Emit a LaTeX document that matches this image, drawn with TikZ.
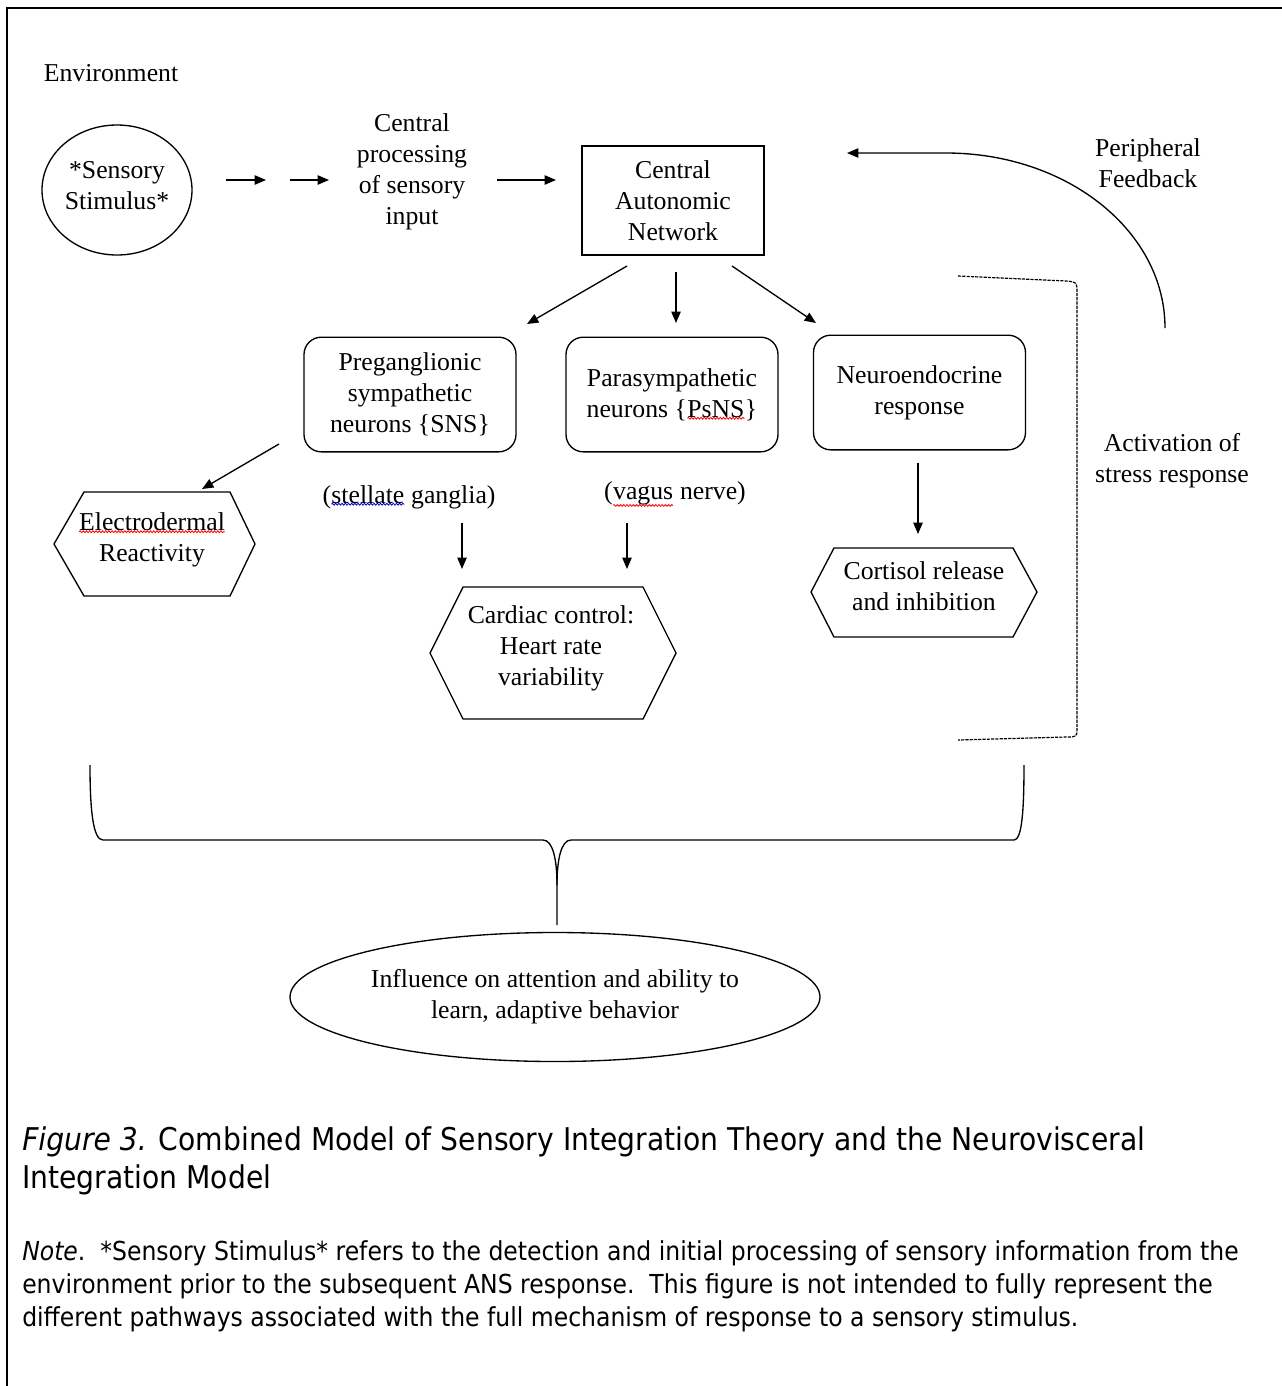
\documentclass[tikz,border=0pt]{standalone}
\usepackage{fontspec}
\setmainfont{Liberation Serif}
\newfontfamily\capfont[FakeStretch=0.9]{DejaVu Sans}
\usetikzlibrary{arrows.meta,shapes.geometric,decorations.pathmorphing}
\newcommand\wavy[2]{\tikz[baseline=(w.base)]{\node[shape=rectangle,draw=none,fill=none,minimum width=0pt,minimum height=0pt,inner sep=0pt,outer sep=0pt,sharp corners](w){#2};\draw[#1,sharp corners,line width=0.6pt,decorate,decoration={snake,amplitude=0.7pt,segment length=2.4pt}]([yshift=-0.6pt]w.south west)--([yshift=-0.6pt]w.south east);}}
\begin{document}
\begin{tikzpicture}[x=0.75pt,y=-0.75pt,
  txt/.style={font=\fontsize{19.3}{23.25}\selectfont,align=center,inner sep=0pt},
  arr/.style={line width=1pt,-{Triangle[length=8.5pt,width=7pt]}},
  rbox/.style={txt,draw,line width=1pt,rounded corners=13pt,minimum width=159pt,minimum height=86pt},
  hex/.style={line width=1pt},
  captxt/.style={font=\capfont\fontsize{23.5}{27}\selectfont,inner sep=0pt,anchor=base west},
  notetxt/.style={font=\capfont\fontsize{19.6}{24}\selectfont,inner sep=0pt,anchor=base west}]
\useasboundingbox (0,0) rectangle (1282,1386);
\fill[white] (0,0) rectangle (1282,1386);
% frame
\coordinate (fTL) at (7,8);
\coordinate (fTR) at (1282,8);
\coordinate (fBL) at (7,1386);
\draw[line width=1.5pt] (fBL) -- (fTL) -- (fTR);

% top row
\node[txt] (env) at (111,73) {Environment};
\node[txt,draw,ellipse,line width=1pt,minimum width=112.5pt,minimum height=97.5pt,inner sep=0pt] (stim) at (117,190) {};
\node[txt] (stimt) at (117,186) {*Sensory\\Stimulus*};
\node[txt] (cp) at (412,172) {Central\\processing\\of sensory\\input};
\node[txt,draw,line width=1pt,minimum width=136.5pt,minimum height=81.75pt] (can) at (673,200.5) {Central\\Autonomic\\Network};

\coordinate (a1s) at (226,180); \coordinate (a1e) at (266,180);
\coordinate (a2s) at (290,180); \coordinate (a2e) at (329,180);
\coordinate (a3s) at (497,180); \coordinate (a3e) at (556,180);
\draw[arr] (a1s) -- (a1e);
\draw[arr] (a2s) -- (a2e);
\draw[arr] (a3s) -- (a3e);

% feedback
\node[txt] (pf) at (1148,163) {Peripheral\\Feedback};
\coordinate (fb0) at (1165,328);
\coordinate (fb1) at (946,153);
\coordinate (fb2) at (847,153);
\draw[arr] (fb0) .. controls (1165,231) and (1067,153) .. (fb1) -- (fb2);

% arrows from CAN
\coordinate (c1s) at (627,266); \coordinate (c1e) at (527,324);
\coordinate (c2s) at (676,272); \coordinate (c2e) at (676,323);
\coordinate (c3s) at (732,266); \coordinate (c3e) at (816,323);
\draw[arr] (c1s) -- (c1e);
\draw[arr] (c2s) -- (c2e);
\draw[arr] (c3s) -- (c3e);

% rounded boxes
\node[rbox] (pre) at (410,394.5) {Preganglionic\\sympathetic\\neurons \{SNS\}};
\node[rbox] (para) at (672,394.5) {Parasympathetic\\neurons \{\wavy{red}{PsNS}\}};
\node[rbox] (neu) at (919.5,392.5) {Neuroendocrine\\response};

% electrodermal
\coordinate (e1s) at (279,444); \coordinate (e1e) at (202,489);
\draw[arr] (e1s) -- (e1e);
\draw[hex] (54,544) -- (84,492) -- (230,492) -- (255,544) -- (230,596) -- (84,596) -- cycle;
\node[txt] (elec) at (152,540) {\wavy{red}{Electrodermal}\\Reactivity};

% stellate / vagus
\node[txt] (stel) at (409,497) {(\wavy{blue!80!black}{stellate} ganglia)};
\node[txt] (vag) at (675,494) {(\wavy{red}{vagus} nerve)};
\coordinate (s1s) at (462,523); \coordinate (s1e) at (462,569);
\coordinate (v1s) at (627,523); \coordinate (v1e) at (627,569);
\draw[arr] (s1s) -- (s1e);
\draw[arr] (v1s) -- (v1e);

% cardiac
\draw[hex] (430,653) -- (463,587) -- (643,587) -- (676,653) -- (643,719) -- (463,719) -- cycle;
\node[txt] (card) at (551,648) {Cardiac control:\\Heart rate\\variability};

% cortisol
\coordinate (n1s) at (918,463); \coordinate (n1e) at (918,534);
\draw[arr] (n1s) -- (n1e);
\draw[hex] (811,592) -- (834,548) -- (1013,548) -- (1037,592) -- (1013,637) -- (834,637) -- cycle;
\node[txt] (cort) at (924,586) {Cortisol release\\and inhibition};

% activation bracket
\node[txt] (act) at (1172,461) {Activation of\\stress response};
\draw[line width=0.9pt,dash pattern=on 2.4pt off 0.8pt] (958,276) -- (1066,281) .. controls (1077,282) .. (1077,293) -- (1077,728) .. controls (1077,737) .. (1066,737) -- (958,740);

% brace
\draw[line width=1pt] (90,765) .. controls (90,810) and (93,840) .. (103,840) -- (543,840) .. controls (553,840) and (557,860) .. (557,885) -- (557,925);
\draw[line width=1pt] (557,885) .. controls (557,860) and (561,840) .. (571,840) -- (1014,840) .. controls (1022,840) and (1024,810) .. (1024,765);

% outcome
\node[txt,draw,ellipse,line width=1pt,minimum width=397.5pt,minimum height=96.75pt,inner sep=0pt] (inf) at (555,997) {};
\node[txt] (inft) at (555,997) {Influence on attention and ability to\\learn, adaptive behavior};

% caption
\node[captxt] (cap1) at (22,1150) {\textit{Figure 3.} Combined Model of Sensory Integration Theory and the Neurovisceral};
\node[captxt] (cap2) at (22,1188) {Integration Model};
\node[notetxt] (n1) at (22,1260) {\textit{Note}.\ \ *Sensory Stimulus* refers to the detection and initial processing of sensory information from the};
\node[notetxt] (n2) at (22,1293) {environment prior to the subsequent ANS response.\ \ This figure is not intended to fully represent the};
\node[notetxt] (n3) at (22,1326) {different pathways associated with the full mechanism of response to a sensory stimulus.};
\end{tikzpicture}
\end{document}
